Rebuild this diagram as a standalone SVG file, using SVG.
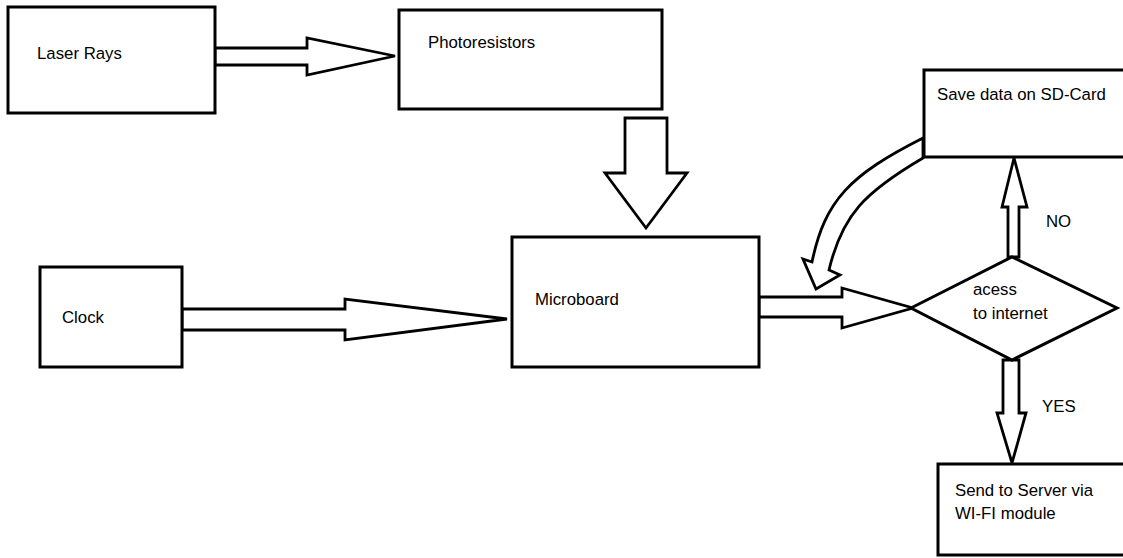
<svg xmlns="http://www.w3.org/2000/svg" width="1123" height="558" viewBox="0 0 1123 558">
  <style>
    .box { fill: #fff; stroke: #000; stroke-width: 3; }
    .arrow { fill: #fff; stroke: #000; stroke-width: 2.8; stroke-linejoin: miter; }
    .label { font-family: "Liberation Sans", Arial, sans-serif; font-size: 16.8px; fill: #000; }
  </style>
  <rect width="1123" height="558" fill="#fff"/>

  <!-- block arrows between the stages -->
  <g id="connectors">
    <!-- Laser Rays -> Photoresistors -->
    <path class="arrow" d="M215,48 L307,48 L307,38 L395,56 L307,75 L307,65 L215,65 Z"/>
    <!-- Photoresistors -> Microboard -->
    <path class="arrow" d="M625,118 L667,118 L667,173 L687,173 L646,228 L605,173 L625,173 Z"/>
    <!-- Clock -> Microboard -->
    <path class="arrow" d="M182,309 L345,309 L345,299 L507,319 L345,340 L345,330 L182,330 Z"/>
    <!-- Microboard -> decision -->
    <path class="arrow" d="M759,297 L842,297 L842,288 L913,308 L842,328 L842,317 L759,317 Z"/>
    <!-- decision -> Save data (NO) -->
    <path class="arrow" d="M1008,257 L1008,207 L1002,207 L1014,158 L1027,207 L1019,207 L1019,257 Z"/>
    <!-- decision -> Send to Server (YES) -->
    <path class="arrow" d="M1003,360 L1019,360 L1019,413 L1026,413 L1012,463 L997,413 L1003,413 Z"/>
    <!-- Save data -> back to Microboard (curved) -->
    <path class="arrow" d="M923,138 C850,175 825,200 812,262 L803,259 L816,289 L840,275 L829,270 C842,215 865,192 923,158 Z"/>
  </g>

  <g id="node-laser">
    <rect class="box" x="8" y="7" width="207" height="106"/>
    <text class="label" x="37" y="59">Laser Rays</text>
  </g>

  <g id="node-photoresistors">
    <rect class="box" x="399" y="10" width="263" height="99"/>
    <text class="label" x="428" y="48">Photoresistors</text>
  </g>

  <g id="node-clock">
    <rect class="box" x="40" y="267" width="142" height="100"/>
    <text class="label" x="62" y="323">Clock</text>
  </g>

  <g id="node-microboard">
    <rect class="box" x="512" y="237" width="247" height="130"/>
    <text class="label" x="535" y="305">Microboard</text>
  </g>

  <g id="node-sdcard">
    <rect class="box" x="924" y="70" width="210" height="87"/>
    <text class="label" x="937" y="100">Save data on SD-Card</text>
  </g>

  <g id="node-decision">
    <polygon class="box" points="911,308 1012,257 1117,308 1012,360"/>
    <text class="label" x="973" y="295">acess</text>
    <text class="label" x="973" y="319">to internet</text>
  </g>

  <g id="node-server">
    <rect class="box" x="938" y="464" width="200" height="91"/>
    <text class="label" x="955" y="496">Send to Server via</text>
    <text class="label" x="955" y="519">WI-FI module</text>
  </g>

  <g id="edge-labels">
    <text class="label" x="1046" y="227">NO</text>
    <text class="label" x="1042" y="412">YES</text>
  </g>
</svg>
